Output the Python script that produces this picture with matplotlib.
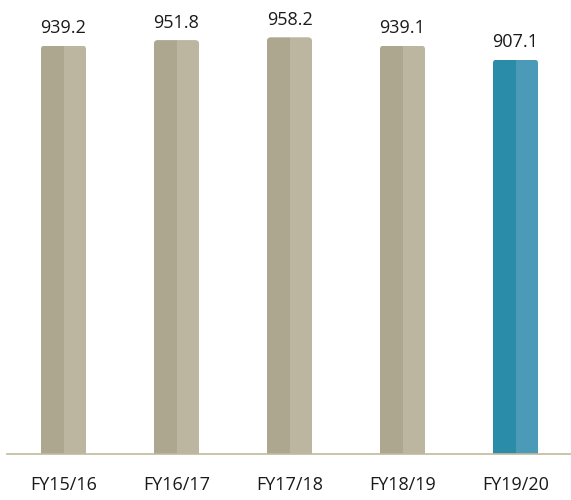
import matplotlib
matplotlib.use("Agg")
import matplotlib.pyplot as plt
from matplotlib.patches import FancyBboxPatch

categories = ["FY15/16", "FY16/17", "FY17/18", "FY18/19", "FY19/20"]
values = [939.2, 951.8, 958.2, 939.1, 907.1]
highlight = [False, False, False, False, True]

plt.rcParams['font.family'] = ['Open Sans', 'DejaVu Sans']

fig = plt.figure(figsize=(5.71, 5.00), dpi=100)
ax = fig.add_axes([7 / 571, (500 - 454) / 500, 565 / 571, 454 / 500])

x_lo, x_hi = -0.5, 4.5
y_lo, y_hi = 0, 1044
ax.set_xlim(x_lo, x_hi)
ax.set_ylim(y_lo, y_hi)

bar_w = 0.4
tan_dark, tan_light = "#ADA78F", "#BCB5A0"
blue_dark, blue_light = "#2B8CA9", "#4B9BB8"

# pixel scales for rounding the top corners
px_x = 565 / (x_hi - x_lo)
px_y = 454 / (y_hi - y_lo)
r_px = 4.0
r_x = r_px / px_x
aspect = (r_px / px_y) / r_x

for i, (v, hl) in enumerate(zip(values, highlight)):
    dark, light = (blue_dark, blue_light) if hl else (tan_dark, tan_light)
    clip = FancyBboxPatch((i - bar_w / 2, -50), bar_w, v + 50,
                          boxstyle=f"round,pad=0,rounding_size={r_x}",
                          mutation_aspect=aspect, transform=ax.transData)
    b1 = ax.bar(i - bar_w / 4, v, width=bar_w / 2, color=dark, linewidth=0)
    b2 = ax.bar(i + bar_w / 4, v, width=bar_w / 2, color=light, linewidth=0)
    for p in list(b1) + list(b2):
        p.set_clip_path(clip)
    ax.annotate(f"{v:.1f}", (i, v), xytext=(0, 6), textcoords="offset points",
                ha="center", va="bottom", fontsize=13, color="#1a1a1a")

ax.set_xticks(range(len(categories)))
ax.set_xticklabels(categories, fontsize=13, color="#1a1a1a")
ax.tick_params(axis="x", length=0, pad=16)
ax.set_yticks([])
for s in ["top", "right", "left"]:
    ax.spines[s].set_visible(False)
ax.spines["bottom"].set_color("#C2B99C")
ax.spines["bottom"].set_linewidth(1.2)

fig.savefig("out.png", dpi=100)
